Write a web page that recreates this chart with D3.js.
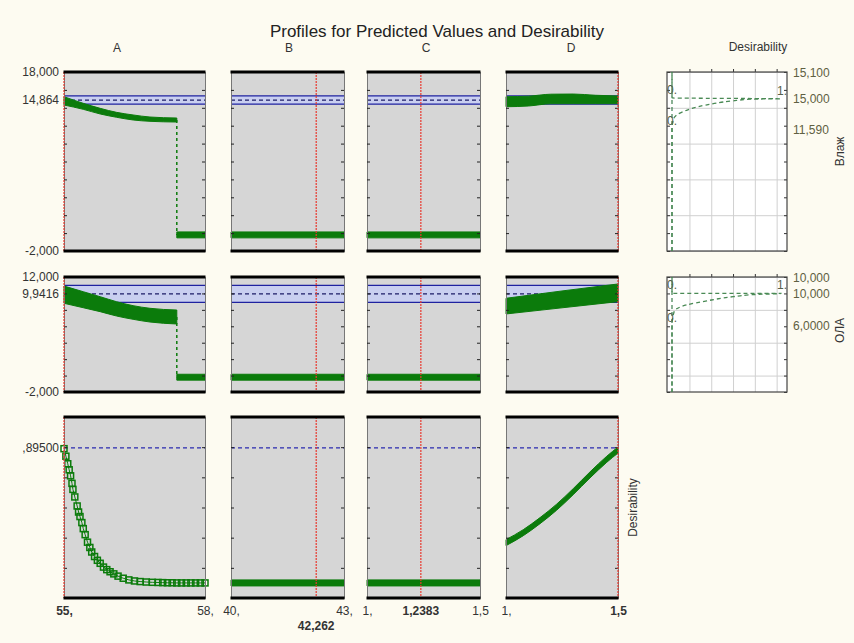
<!DOCTYPE html>
<html>
<head>
<meta charset="utf-8">
<script src="https://cdn.jsdelivr.net/npm/d3@7"></script>
<style>
body { margin: 0; background: #fdfbf1; }
svg { display: block; font-family: "Liberation Sans", Arial, sans-serif; }
</style>
</head>
<body>
<svg width="854" height="643"></svg>
<script>
// Profiles for predicted values and desirability

var factors = ["A", "B", "C", "D"];
var factorMin = [55, 40, 1, 1];
var factorMax = [58, 43, 1.5, 1.5];
var factorCurrent = [55, 42.262, 1.2383, 1.5];
var minLabels = ["55,", "40,", "1,", "1,"];
var maxLabels = ["58,", "43,", "1,5", "1,5"];
var currentLabels = ["55,", "42,262", "1,2383", "1,5"];

var responses = ["Влаж", "ОЛА", "Desirability"];
var respMin = [-2, -2, -0.1];
var respMax = [18, 12, 1.1];
var respTickStep = [2, 2, 0.2];
var respMinLabels = ["-2,000", "-2,000", ""];
var respMaxLabels = ["18,000", "12,000", ""];
var predicted = [14.864, 9.9416, 0.895];
var predictedLabels = ["14,864", "9,9416", ",89500"];
var predictedHalfCI = [0.46, 1.03, 0];

// green bands: [x, lower, upper]; a profile may have several segments
var vlazhA = [
  [[55.0, 14.31, 15.24], [55.41, 13.83, 14.50], [55.77, 13.31, 13.94], [56.12, 12.94, 13.49],
   [56.47, 12.64, 13.20], [56.83, 12.49, 12.97], [57.40, 12.41, 12.86]],
  [[57.40, -0.53, 0.13], [58, -0.53, 0.13]]
];
var vlazhB = [[[40, -0.53, 0.13], [43, -0.53, 0.13]]];
var vlazhC = [[[1, -0.53, 0.13], [1.5, -0.53, 0.13]]];
var vlazhD = [[[1, 14.12, 15.24], [1.1, 14.2, 15.3], [1.2, 14.45, 15.52], [1.3, 14.46, 15.54],
  [1.4, 14.46, 15.4], [1.5, 14.46, 15.32]]];

var olaA = [
  [[55.0, 8.80, 10.90], [55.41, 8.26, 10.21], [55.77, 7.78, 9.60], [56.12, 7.25, 8.99],
   [56.47, 6.85, 8.51], [56.83, 6.52, 8.19], [57.40, 6.28, 7.98]],
  [[57.40, -0.56, 0.16], [58, -0.56, 0.16]]
];
var olaB = [[[40, -0.56, 0.16], [43, -0.56, 0.16]]];
var olaC = [[[1, -0.56, 0.16], [1.5, -0.56, 0.16]]];
var olaD = [[[1, 7.5, 9.41], [1.25, 8.25, 10.3], [1.5, 9.0, 11.15]]];

// desirability of A drawn as square markers: [x, d]
var desA = [[
  [55.0, 0.89], [55.04, 0.84], [55.08, 0.79], [55.11, 0.75], [55.14, 0.71], [55.17, 0.66],
  [55.19, 0.62], [55.23, 0.57], [55.28, 0.51], [55.31, 0.47], [55.34, 0.44], [55.38, 0.40],
  [55.41, 0.36], [55.45, 0.32], [55.50, 0.27], [55.55, 0.235], [55.59, 0.205], [55.65, 0.175],
  [55.71, 0.15], [55.77, 0.13], [55.84, 0.105], [55.91, 0.088], [55.98, 0.074], [56.06, 0.06],
  [56.15, 0.045], [56.26, 0.031], [56.38, 0.02], [56.5, 0.013], [56.62, 0.009], [56.75, 0.006],
  [56.88, 0.004], [57.0, 0.003], [57.1, 0.002], [57.2, 0.001], [57.3, 0.001], [57.4, 0],
  [57.5, 0], [57.6, 0], [57.7, 0], [57.8, 0], [57.9, 0], [58, 0]
]];
var desB = [[[40, -0.02, 0.02], [43, -0.02, 0.02]]];
var desC = [[[1, -0.02, 0.02], [1.5, -0.02, 0.02]]];
var desD = [[[1, 0.247, 0.287], [1.077, 0.313, 0.353], [1.152, 0.393, 0.433], [1.226, 0.482, 0.522],
  [1.30, 0.585, 0.625], [1.375, 0.696, 0.736], [1.45, 0.800, 0.840], [1.5, 0.861, 0.901]]];

var profiles = [[vlazhA, vlazhB, vlazhC, vlazhD], [olaA, olaB, olaC, olaD], [desA, desB, desC, desD]];

// desirability functions: d against response value
var desirVlazhD = [0, 0, 0.02, 0.1, 0.31, 0.55, 0.76, 1, 0, 0];
var desirVlazhR = [-2, 11.59, 12.9, 13.56, 14.31, 14.76, 14.98, 15.0, 15.1, 18];
var desirOlaD = [0, 0, 0.02, 0.135, 0.32, 0.56, 0.78, 1, 0, 0];
var desirOlaR = [-2, 6, 7.8, 8.6, 9.1, 9.6, 9.88, 10, 10.0004, 12];
var desirLimits = [[11.59, 15.0, 15.1], [6.0, 10.0, 10.0004]];
var desirLimitLabels = [["11,590", "15,000", "15,100"], ["6,0000", "10,000", "10,000"]];
var desirGrid = [0.16, 0.36, 0.56, 0.76, 0.96];

var svg = d3.select("svg");
var colX = [[64, 205], [231, 344], [367, 480], [506, 618]];
var colLabelX = [117, 289, 426, 571];
var rowY = [[72, 251], [277, 392], [417, 598]];
var desX = [667, 787];
var green = "#0b7b0b";
var fs = 12;

svg.append("text").attr("x", 437).attr("y", 37).attr("text-anchor", "middle")
  .attr("font-size", 17).attr("fill", "#222").text("Profiles for Predicted Values and Desirability");

factors.forEach(function(f, c) {
  svg.append("text").attr("x", colLabelX[c]).attr("y", 52).attr("text-anchor", "middle")
    .attr("font-size", fs).attr("fill", "#333").text(f);
});
svg.append("text").attr("x", 758).attr("y", 51).attr("text-anchor", "middle")
  .attr("font-size", fs).attr("fill", "#333").text("Desirability");

rowY.forEach(function(ry, r) {
  var y = d3.scaleLinear().domain([respMin[r], respMax[r]]).range([ry[1], ry[0]]);
  var ticks = d3.range(respMin[r], respMax[r] + 1e-9, respTickStep[r]);

  colX.forEach(function(cx, c) {
    var x = d3.scaleLinear().domain([factorMin[c], factorMax[c]]).range(cx);
    var g = svg.append("g");

    g.append("rect").attr("x", cx[0]).attr("y", ry[0]).attr("width", cx[1] - cx[0])
      .attr("height", ry[1] - ry[0]).attr("fill", "#d6d6d6");

    if (predictedHalfCI[r] > 0) {
      var hi = predicted[r] + predictedHalfCI[r], lo = predicted[r] - predictedHalfCI[r];
      g.append("rect").attr("x", cx[0]).attr("y", y(hi)).attr("width", cx[1] - cx[0])
        .attr("height", y(lo) - y(hi)).attr("fill", "#c9cff0");
      [hi, lo].forEach(function(v) {
        g.append("line").attr("x1", cx[0]).attr("x2", cx[1]).attr("y1", y(v)).attr("y2", y(v))
          .attr("stroke", "#1f22a0").attr("stroke-width", 1.2);
      });
    }
    g.append("line").attr("x1", cx[0]).attr("x2", cx[1])
      .attr("y1", y(predicted[r])).attr("y2", y(predicted[r]))
      .attr("stroke", r == 2 ? "#2a2ab0" : "#1c1c66").attr("stroke-width", 1.2)
      .attr("stroke-dasharray", "4,3");

    var segs = profiles[r][c];
    segs.forEach(function(seg, i) {
      if (seg[0].length == 3) {
        g.append("path").datum(seg)
          .attr("d", d3.area().curve(d3.curveMonotoneX)
            .x(function(d) { return x(d[0]); })
            .y0(function(d) { return y(d[1]); })
            .y1(function(d) { return y(d[2]); }))
          .attr("fill", green).attr("stroke", green).attr("stroke-width", 1);
      } else {
        g.append("path").datum(seg)
          .attr("d", d3.line().x(function(d) { return x(d[0]); }).y(function(d) { return y(d[1]); }))
          .attr("fill", "none").attr("stroke", green).attr("stroke-width", 1);
        g.selectAll(".mk").data(seg).enter().append("rect")
          .attr("x", function(d) { return x(d[0]) - 3; })
          .attr("y", function(d) { return y(d[1]) - 3; })
          .attr("width", 6).attr("height", 6)
          .attr("fill", "none").attr("stroke", green).attr("stroke-width", 1.5);
      }
      if (i > 0) {
        var a = segs[i - 1][segs[i - 1].length - 1], b = seg[0];
        g.append("line").attr("x1", x(a[0])).attr("x2", x(b[0]))
          .attr("y1", y((a[1] + a[2]) / 2)).attr("y2", y((b[1] + b[2]) / 2))
          .attr("stroke", green).attr("stroke-width", 1.5).attr("stroke-dasharray", "3,3");
      }
    });

    // ticks
    g.append("g").attr("transform", "translate(" + cx[0] + ",0)")
      .call(d3.axisLeft(y).tickValues(ticks).tickSize(-3).tickFormat(""))
      .call(function(s) { s.select(".domain").attr("stroke", "#777"); s.selectAll("line").attr("stroke", "#222"); });
    g.append("g").attr("transform", "translate(" + cx[1] + ",0)")
      .call(d3.axisRight(y).tickValues(ticks).tickSize(-3).tickFormat(""))
      .call(function(s) { s.select(".domain").attr("stroke", "#777"); s.selectAll("line").attr("stroke", "#222"); });

    // current factor level
    g.append("line").attr("x1", x(factorCurrent[c])).attr("x2", x(factorCurrent[c]))
      .attr("y1", ry[0]).attr("y2", ry[1])
      .attr("stroke", "#e8382e").attr("stroke-width", 1.2).attr("stroke-dasharray", "2,1");

    [ry[0], ry[1]].forEach(function(v) {
      g.append("line").attr("x1", cx[0] - 0.5).attr("x2", cx[1] + 0.5).attr("y1", v).attr("y2", v)
        .attr("stroke", "#000").attr("stroke-width", 3);
    });

    // response axis labels on the first column
    if (c == 0) {
      var vals = [], labs = [];
      [[respMin[r], respMinLabels[r]], [predicted[r], predictedLabels[r]], [respMax[r], respMaxLabels[r]]]
        .forEach(function(p) { if (p[1]) { vals.push(p[0]); labs.push(p[1]); } });
      svg.append("g").attr("transform", "translate(" + cx[0] + ",0)")
        .call(d3.axisLeft(y).tickValues(vals).tickSize(0).tickPadding(5)
          .tickFormat(function(d, i) { return labs[i]; }))
        .call(function(s) {
          s.select(".domain").remove();
          s.selectAll("text").attr("font-size", fs).attr("fill", "#333")
            .attr("font-family", "Liberation Sans, Arial, sans-serif");
        });
    }

    // factor axis labels under the last row
    if (r == 2) {
      var fl = [minLabels[c], maxLabels[c]];
      var fv = [factorMin[c], factorMax[c]];
      svg.append("g").attr("transform", "translate(0," + ry[1] + ")")
        .call(d3.axisBottom(x).tickValues(fv).tickSize(0).tickPadding(8)
          .tickFormat(function(d, i) { return fl[i]; }))
        .call(function(s) {
          s.select(".domain").remove();
          s.selectAll("text").attr("font-size", fs).attr("fill", "#333")
            .attr("font-family", "Liberation Sans, Arial, sans-serif")
            .attr("font-weight", function(d) { return d == factorCurrent[c] ? "bold" : "normal"; });
        });
      if (factorCurrent[c] != factorMin[c] && factorCurrent[c] != factorMax[c]) {
        var px = x(factorCurrent[c]);
        var near = Math.min(px - cx[0], cx[1] - px) < 35;
        svg.append("text").attr("x", px).attr("y", ry[1] + (near ? 32 : 17))
          .attr("text-anchor", "middle").attr("font-size", fs).attr("font-weight", "bold")
          .attr("fill", "#333").text(currentLabels[c]);
      }
    }
  });

  // desirability function panels
  if (r < 2) {
    var dx = d3.scaleLinear().domain([0, 1]).range([672, 781]);
    var dd = r == 0 ? desirVlazhD : desirOlaD;
    var dr = r == 0 ? desirVlazhR : desirOlaR;
    var gd = svg.append("g");
    gd.append("rect").attr("x", desX[0]).attr("y", ry[0]).attr("width", desX[1] - desX[0])
      .attr("height", ry[1] - ry[0]).attr("fill", "#fff");
    var gridY = d3.range(respMax[r], respMin[r] - 1e-9, -4);
    gd.append("g").attr("transform", "translate(" + desX[0] + ",0)")
      .call(d3.axisLeft(y).tickValues(gridY).tickSize(-(desX[1] - desX[0])).tickFormat(""))
      .call(function(s) { s.select(".domain").remove(); s.selectAll("line").attr("stroke", "#d0d0d0"); });
    gd.append("g").attr("transform", "translate(0," + ry[1] + ")")
      .call(d3.axisBottom(dx).tickValues(desirGrid).tickSize(-(ry[1] - ry[0])).tickFormat(""))
      .call(function(s) { s.select(".domain").remove(); s.selectAll("line").attr("stroke", "#d0d0d0"); });
    gd.append("g").attr("transform", "translate(0," + ry[0] + ")")
      .call(d3.axisTop(dx).tickValues(desirGrid).tickSize(3).tickFormat(""))
      .call(function(s) { s.select(".domain").remove(); s.selectAll("line").attr("stroke", "#333"); });
    gd.append("g").attr("transform", "translate(" + desX[0] + ",0)")
      .call(d3.axisLeft(y).tickValues(ticks).tickSize(-3).tickFormat(""))
      .call(function(s) { s.select(".domain").remove(); s.selectAll("line").attr("stroke", "#333"); });
    gd.append("g").attr("transform", "translate(" + desX[1] + ",0)")
      .call(d3.axisRight(y).tickValues(ticks).tickSize(-3).tickFormat(""))
      .call(function(s) { s.select(".domain").remove(); s.selectAll("line").attr("stroke", "#333"); });
    gd.append("rect").attr("x", desX[0]).attr("y", ry[0]).attr("width", desX[1] - desX[0])
      .attr("height", ry[1] - ry[0]).attr("fill", "none").attr("stroke", "#444").attr("stroke-width", 1.2);

    gd.append("line").attr("x1", dx(0)).attr("x2", dx(0)).attr("y1", ry[0]).attr("y2", ry[1])
      .attr("stroke", "#3f7f4f").attr("stroke-width", 1.2).attr("stroke-dasharray", "4,3");
    gd.append("path").datum(d3.range(dd.length))
      .attr("d", d3.line().curve(d3.curveMonotoneY)
        .x(function(i) { return dx(dd[i]); }).y(function(i) { return y(dr[i]); }))
      .attr("fill", "none").attr("stroke", "#4a8a55").attr("stroke-width", 1.3)
      .attr("stroke-dasharray", "4,3");

    var lim = desirLimits[r];
    [[0, lim[2]], [1, lim[1]], [0, lim[0]]].forEach(function(p) {
      gd.append("text").attr("x", dx(p[0]) + (p[0] == 0 ? 0 : 1)).attr("y", y(p[1]) - 4)
        .attr("text-anchor", "middle").attr("font-size", fs).attr("fill", "#55604a").text(p[0] + ".");
    });

    // limit labels on the right, upper one pushed to the top when crowded
    var labs = desirLimitLabels[r];
    lim.forEach(function(v, i) {
      var py = y(v);
      if (i == 2 && Math.abs(y(lim[2]) - y(lim[1])) < 12) py = ry[0] + 1;
      gd.append("text").attr("x", desX[1] + 6).attr("y", py).attr("dy", "0.35em")
        .attr("font-size", fs).attr("fill", "#5f5f42").text(labs[i]);
    });

    svg.append("text").attr("transform", "translate(844," + ((ry[0] + ry[1]) / 2 - (r == 0 ? 10 : 4)) + ") rotate(-90)")
      .attr("text-anchor", "middle").attr("font-size", fs).attr("fill", "#333").text(responses[r]);
  } else {
    svg.append("text").attr("transform", "translate(637," + ((ry[0] + ry[1]) / 2) + ") rotate(-90)")
      .attr("text-anchor", "middle").attr("font-size", fs).attr("fill", "#333").text(responses[r]);
  }
});
</script>
</body>
</html>
